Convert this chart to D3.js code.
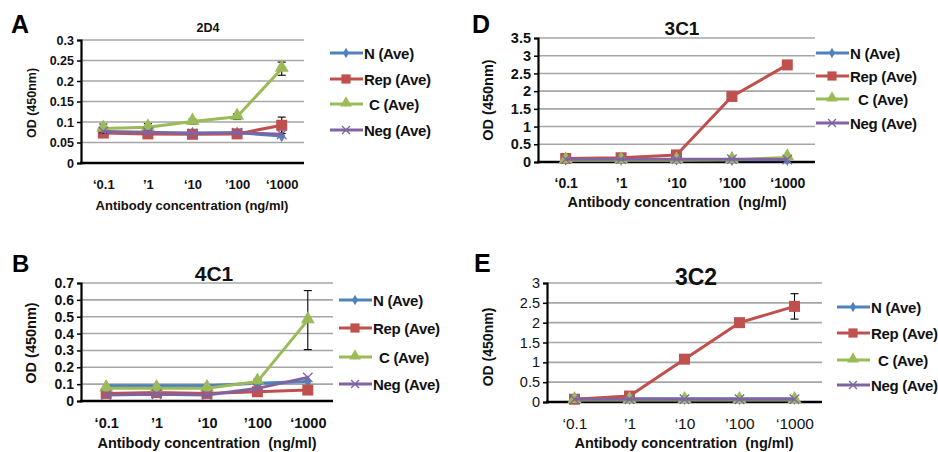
<!DOCTYPE html>
<html lang="en">
<head>
	<meta charset="utf-8">
	<title>ELISA titration panels</title>
	<script type="text/javascript" src="https://d3js.org/d3.v7.min.js"></script>
	<style type="text/css">
		body { margin: 0; background: #fff; }
		svg text { font-family: "Liberation Sans", Arial, sans-serif; white-space: pre; }
	</style>
</head>
<body>
	<script type="text/javascript">
		//Shared categories and legend names
		var categories = ["\u20180.1", "\u20191", "\u201810", "\u2019100", "\u20181000"];
		var seriesNames = ["N (Ave)", "Rep (Ave)", "C (Ave)", "Neg (Ave)"];
		var seriesColors = ["#4F81BD", "#C0504D", "#9BBB59", "#8064A2"];

		//Panel A - 2D4
		var a_N   = [0.075, 0.074, 0.073, 0.074, 0.066];
		var a_Rep = [0.073, 0.071, 0.070, 0.071, 0.092];
		var a_C   = [0.084, 0.087, 0.101, 0.113, 0.230];
		var a_Neg = [0.077, 0.075, 0.072, 0.074, 0.070];
		var a_RepErr = [0, 0, 0, 0, 0.020];
		var a_CErr   = [0.011, 0.009, 0.006, 0.007, 0.016];
		var a_ticks  = [0, 0.05, 0.1, 0.15, 0.2, 0.25, 0.3];

		//Panel B - 4C1
		var b_N   = [0.090, 0.090, 0.090, 0.105, 0.115];
		var b_Rep = [0.045, 0.050, 0.045, 0.055, 0.065];
		var b_C   = [0.075, 0.075, 0.075, 0.115, 0.480];
		var b_Neg = [0.035, 0.040, 0.035, 0.075, 0.140];
		var b_CErr = [0, 0, 0, 0.015, 0.175];
		var b_ticks = [0, 0.1, 0.2, 0.3, 0.4, 0.5, 0.6, 0.7];

		//Panel D - 3C1
		var d_N   = [0.07, 0.07, 0.07, 0.06, 0.06];
		var d_Rep = [0.10, 0.12, 0.20, 1.85, 2.74];
		var d_C   = [0.05, 0.05, 0.05, 0.06, 0.13];
		var d_Neg = [0.08, 0.08, 0.08, 0.08, 0.07];
		var d_ticks = [0, 0.5, 1, 1.5, 2, 2.5, 3, 3.5];

		//Panel E - 3C2
		var e_N   = [0.08, 0.08, 0.08, 0.08, 0.08];
		var e_Rep = [0.07, 0.15, 1.08, 2.00, 2.41];
		var e_C   = [0.05, 0.05, 0.05, 0.05, 0.05];
		var e_Neg = [0.07, 0.07, 0.07, 0.07, 0.07];
		var e_RepErr = [0, 0, 0, 0, 0.32];
		var e_ticks = [0, 0.5, 1, 1.5, 2, 2.5, 3];

		var w = 938;
		var h = 452;

		var svg = d3.select("body")
			.append("svg")
			.attr("width", w)
			.attr("height", h);

		//Layout of each panel (positions only, data come from the arrays above)
		var panels = [
			{ letter: "A", lx: 11, ly: 33, lsize: 25, title: "2D4", tx: 208, ty: 32, tsize: 12.5,
			  left: 81, right: 304, top: 40, bottom: 163, ticks: a_ticks,
			  series: [a_N, a_Rep, a_C, a_Neg], errors: [null, a_RepErr, a_CErr, null],
			  tickFont: 12.5, tickBold: true, xFont: 13, xLabelDrop: 26,
			  xTitle: "Antibody concentration (ng/ml)", xtx: 192, xty: 210, xtsize: 13,
			  ytx: 36, yty: 103, ytsize: 12.5,
			  legX: 330, legRows: [53, 79, 104, 130], cIndent: 5 },
			{ letter: "B", lx: 12, ly: 272, lsize: 24, title: "4C1", tx: 214, ty: 281, tsize: 21,
			  left: 81, right: 333, top: 283, bottom: 401, ticks: b_ticks,
			  series: [b_N, b_Rep, b_C, b_Neg], errors: [null, null, b_CErr, null],
			  tickFont: 14, tickBold: true, xFont: 14.5, xLabelDrop: 27,
			  xTitle: "Antibody concentration  (ng/ml)", xtx: 207, xty: 448, xtsize: 14.5,
			  ytx: 36, yty: 343, ytsize: 14.5,
			  legX: 339, legRows: [300, 328, 357, 384], cIndent: 6 },
			{ letter: "D", lx: 472, ly: 33, lsize: 25, title: "3C1", tx: 682, ty: 35, tsize: 19,
			  left: 538, right: 815, top: 38, bottom: 162, ticks: d_ticks,
			  series: [d_N, d_Rep, d_C, d_Neg], errors: [null, null, null, null],
			  tickFont: 14.5, tickBold: true, xFont: 14, xLabelDrop: 26,
			  xTitle: "Antibody concentration  (ng/ml)", xtx: 677, xty: 207, xtsize: 14.5,
			  ytx: 493, yty: 100, ytsize: 14.5,
			  legX: 816, legRows: [53, 76, 99, 123], cIndent: 8 },
			{ letter: "E", lx: 474, ly: 272, lsize: 25, title: "3C2", tx: 696, ty: 285, tsize: 23,
			  left: 547, right: 822, top: 283, bottom: 402, ticks: e_ticks,
			  series: [e_N, e_Rep, e_C, e_Neg], errors: [null, e_RepErr, null, null],
			  tickFont: 14.5, tickBold: false, xFont: 15.5, xLabelDrop: 27,
			  xTitle: "Antibody concentration  (ng/ml)", xtx: 684, xty: 448, xtsize: 14.5,
			  ytx: 493, yty: 347, ytsize: 14,
			  legX: 837, legRows: [307, 333, 360, 385], cIndent: 7 }
		];

		//Marker shapes per series: diamond, square, triangle, cross
		function marker(g, i, cx, cy, scale) {
			var s = scale || 1;
			var color = seriesColors[i];
			if (i === 0) {
				g.append("path")
					.attr("d", d3.symbol(d3.symbolDiamond, 45 * s)())
					.attr("transform", "translate(" + cx + "," + cy + ")")
					.attr("fill", color);
			} else if (i === 1) {
				g.append("path")
					.attr("d", d3.symbol(d3.symbolSquare, 121 * s)())
					.attr("transform", "translate(" + cx + "," + cy + ")")
					.attr("fill", color);
			} else if (i === 2) {
				g.append("path")
					.attr("d", d3.symbol(d3.symbolTriangle, 85 * s)())
					.attr("transform", "translate(" + cx + "," + (cy - 1) + ")")
					.attr("fill", color);
			} else {
				g.append("path")
					.attr("d", d3.symbol(d3.symbolX, 60 * s)())
					.attr("transform", "translate(" + cx + "," + cy + ")")
					.attr("fill", "none")
					.attr("stroke", color)
					.attr("stroke-width", 1.3);
			}
		}

		panels.forEach(function(p) {
			var g = svg.append("g");

			var x = d3.scalePoint()
				.domain(categories)
				.range([p.left, p.right])
				.padding(0.5);

			var y = d3.scaleLinear()
				.domain([0, p.ticks[p.ticks.length - 1]])
				.range([p.bottom, p.top]);

			//Gridlines
			g.selectAll(".grid")
				.data(p.ticks.filter(function(t) { return t > 0; }))
				.enter()
				.append("line")
				.attr("x1", p.left)
				.attr("x2", p.right)
				.attr("y1", function(d) { return y(d); })
				.attr("y2", function(d) { return y(d); })
				.attr("stroke", "#a6a6a6")
				.attr("stroke-width", 1.6);

			//Y axis
			var yAxis = g.append("g")
				.attr("transform", "translate(" + p.left + ",0)")
				.call(d3.axisLeft(y)
					.tickValues(p.ticks)
					.tickSize(4)
					.tickPadding(3)
					.tickFormat(function(d) { return String(+d.toFixed(2)); }));
			yAxis.select(".domain").attr("stroke", "#000").attr("stroke-width", 2.2);
			yAxis.selectAll(".tick line").attr("stroke", "#000").attr("stroke-width", 1.5);
			yAxis.selectAll(".tick text")
				.attr("fill", "#111")
				.attr("font-size", p.tickFont + "px")
				.attr("font-weight", p.tickBold ? "bold" : "normal");

			//X axis
			var xAxis = g.append("g")
				.attr("transform", "translate(0," + p.bottom + ")")
				.call(d3.axisBottom(x)
					.tickSize(0)
					.tickPadding(p.xLabelDrop - 0.71 * p.xFont));
			xAxis.select(".domain").remove();
			xAxis.selectAll(".tick text")
				.attr("fill", "#111")
				.attr("font-size", p.xFont + "px")
				.attr("font-weight", p.tickBold ? "bold" : "normal");
			g.append("line")
				.attr("x1", p.left - 1)
				.attr("x2", p.right)
				.attr("y1", p.bottom)
				.attr("y2", p.bottom)
				.attr("stroke", "#000")
				.attr("stroke-width", 2.6);

			//Series lines, error bars and markers
			var line = d3.line()
				.x(function(d, i) { return x(categories[i]); })
				.y(function(d) { return y(d); });

			p.series.forEach(function(vals, si) {
				var sg = g.append("g");
				var err = p.errors[si];
				if (err) {
					vals.forEach(function(v, i) {
						if (!err[i]) return;
						var cx = x(categories[i]);
						sg.append("line")
							.attr("x1", cx).attr("x2", cx)
							.attr("y1", y(v - err[i])).attr("y2", y(v + err[i]))
							.attr("stroke", "#000").attr("stroke-width", 1.1);
						[v - err[i], v + err[i]].forEach(function(e) {
							sg.append("line")
								.attr("x1", cx - 4).attr("x2", cx + 4)
								.attr("y1", y(e)).attr("y2", y(e))
								.attr("stroke", "#000").attr("stroke-width", 1.1);
						});
					});
				}
				sg.append("path")
					.datum(vals)
					.attr("d", line)
					.attr("fill", "none")
					.attr("stroke", seriesColors[si])
					.attr("stroke-width", 3)
					.attr("stroke-linejoin", "round");
				vals.forEach(function(v, i) {
					marker(sg, si, x(categories[i]), y(v));
				});
			});

			//Legend
			seriesNames.forEach(function(name, si) {
				var ry = p.legRows[si];
				g.append("line")
					.attr("x1", p.legX).attr("x2", p.legX + 33)
					.attr("y1", ry).attr("y2", ry)
					.attr("stroke", seriesColors[si])
					.attr("stroke-width", 3);
				marker(g, si, p.legX + 16, ry, 0.7);
				g.append("text")
					.attr("x", p.legX + 34 + (si === 2 ? p.cIndent : 0))
					.attr("y", ry + 5.5)
					.attr("font-size", "15px")
					.attr("letter-spacing", "-0.3px")
					.attr("font-weight", "bold")
					.attr("fill", "#111")
					.text(name);
			});

			//Panel letter and title
			g.append("text")
				.attr("x", p.lx).attr("y", p.ly)
				.attr("font-size", p.lsize + "px")
				.attr("font-weight", "bold")
				.text(p.letter);
			g.append("text")
				.attr("x", p.tx).attr("y", p.ty)
				.attr("text-anchor", "middle")
				.attr("font-size", p.tsize + "px")
				.attr("font-weight", "bold")
				.attr("fill", "#111")
				.text(p.title);

			//Axis titles
			g.append("text")
				.attr("x", p.xtx).attr("y", p.xty)
				.attr("text-anchor", "middle")
				.attr("font-size", p.xtsize + "px")
				.attr("font-weight", "bold")
				.attr("fill", "#111")
				.text(p.xTitle);
			g.append("text")
				.attr("transform", "translate(" + p.ytx + "," + p.yty + ") rotate(-90)")
				.attr("text-anchor", "middle")
				.attr("font-size", p.ytsize + "px")
				.attr("font-weight", "bold")
				.attr("fill", "#111")
				.text("OD (450nm)");
		});
	</script>
</body>
</html>
